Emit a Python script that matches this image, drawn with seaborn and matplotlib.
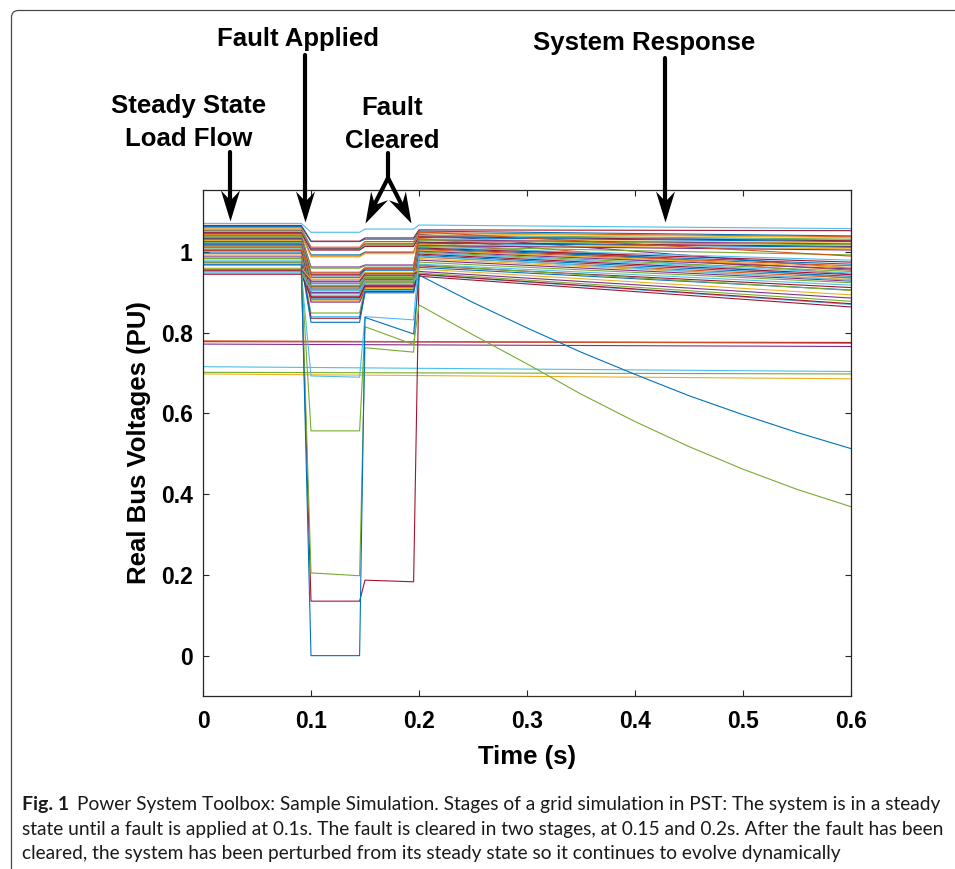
import numpy as np
import pandas as pd
import matplotlib
matplotlib.use("Agg")
import matplotlib.pyplot as plt
from matplotlib.path import Path
from matplotlib.transforms import Affine2D
from matplotlib.patches import FancyBboxPatch
import seaborn as sns

# ---------------------------------------------------------
# DATA
# ---------------------------------------------------------
# breakpoints: steady state, fault on, first clearing, final clearing, end
t_steps = [0.0, 0.091, 0.100, 0.145, 0.150, 0.195, 0.200, 0.600]
t_curve = [0.0, 0.091, 0.100, 0.145, 0.150, 0.195, 0.200,
           0.25, 0.30, 0.35, 0.40, 0.45, 0.50, 0.55, 0.60]
t_flat = [0.0, 0.600]

# ordinary buses: level before fault, during fault, after 1st clear, at 0.2s, at 0.6s
pre_v = [1.071, 1.066, 1.063, 1.060, 1.057, 1.054, 1.052, 1.050, 1.048, 1.046,
         1.044, 1.042, 1.040, 1.038, 1.036, 1.034, 1.032, 1.030, 1.028, 1.026,
         1.024, 1.022, 1.020, 1.018, 1.016, 1.014, 1.012, 1.010, 1.007, 1.004,
         1.000, 0.996, 0.992, 0.988, 0.984, 0.980, 0.975, 0.970, 1.005, 0.960,
         0.956, 0.952, 0.948, 0.945]
fault_v = [1.049, 1.027, 1.026, 1.012, 1.010, 1.009, 1.007, 1.006, 1.005, 0.993,
           0.990, 0.988, 0.963, 0.960, 0.948, 0.945, 0.941, 0.937, 0.933, 0.926,
           0.922, 0.918, 0.915, 0.911, 0.908, 0.904, 0.900, 0.897, 0.893, 0.889,
           0.886, 0.882, 0.879, 0.876, 0.849, 0.840, 0.836, 0.826, 0.950, 0.932,
           0.928, 0.916, 0.905, 0.888]
clear_v = [1.057, 1.035, 1.032, 1.026, 1.022, 1.020, 1.018, 1.016, 1.014, 1.000,
           0.998, 0.996, 0.968, 0.966, 0.962, 0.958, 0.955, 0.948, 0.945, 0.942,
           0.940, 0.937, 0.935, 0.932, 0.930, 0.928, 0.926, 0.924, 0.921, 0.918,
           0.916, 0.913, 0.910, 0.907, 0.913, 0.905, 0.902, 0.899, 0.960, 0.950,
           0.946, 0.934, 0.928, 0.915]
post_v = [1.067, 1.055, 1.052, 1.048, 1.046, 1.044, 1.042, 1.040, 1.038, 1.036,
          1.034, 1.032, 1.030, 1.028, 1.026, 1.024, 1.022, 1.020, 1.018, 1.016,
          1.014, 1.012, 1.010, 1.008, 1.006, 1.004, 1.002, 1.000, 0.998, 0.995,
          0.992, 0.988, 0.984, 0.980, 0.975, 0.970, 0.966, 0.962, 1.050, 0.958,
          0.952, 0.948, 0.944, 0.940]
end_v = [1.058, 1.053, 1.040, 1.038, 1.036, 0.960, 1.032, 1.030, 1.028, 1.026,
         0.945, 1.022, 1.020, 1.018, 0.935, 1.014, 1.012, 0.955, 1.008, 1.005,
         0.993, 0.980, 0.975, 0.970, 0.966, 0.962, 0.958, 0.952, 0.948, 0.944,
         0.940, 0.936, 0.932, 0.928, 0.924, 0.918, 0.912, 0.906, 0.990, 0.894,
         0.886, 0.878, 0.870, 0.864]

# remote buses that barely see the fault
flat_start = [0.778, 0.780, 0.772, 0.716, 0.702, 0.698]
flat_end = [0.776, 0.774, 0.766, 0.704, 0.698, 0.686]

# buses close to the fault
deep_blue = [0.968, 0.968, 0.000, 0.000, 0.838, 0.797, 0.943,
             0.875, 0.812, 0.752, 0.697, 0.644, 0.597, 0.553, 0.513]
deep_green = [0.958, 0.958, 0.557, 0.557, 0.815, 0.771, 0.869,
              0.795, 0.723, 0.648, 0.580, 0.518, 0.462, 0.412, 0.369]
deep_red = [0.955, 0.955, 0.135, 0.135, 0.187, 0.183, 0.945, 0.872]
low_green = [0.975, 0.975, 0.205, 0.198, 0.763, 0.752, 0.968, 0.905]
low_lblue = [0.951, 0.951, 0.693, 0.690, 0.840, 0.832, 0.990, 0.930]

x_ticks = [0, 0.1, 0.2, 0.3, 0.4, 0.5, 0.6]
x_tick_labels = ["0", "0.1", "0.2", "0.3", "0.4", "0.5", "0.6"]
y_ticks = [0, 0.2, 0.4, 0.6, 0.8, 1.0]
y_tick_labels = ["0", "0.2", "0.4", "0.6", "0.8", "1"]

caption_lines = [
    "Power System Toolbox: Sample Simulation. Stages of a grid simulation in PST: The system is in a steady",
    "state until a fault is applied at 0.1s. The fault is cleared in two stages, at 0.15 and 0.2s. After the fault has been",
    "cleared, the system has been perturbed from its steady state so it continues to evolve dynamically",
]

# MATLAB default colour order
MATLAB = ["#0072BD", "#D95319", "#EDB120", "#7E2F8E", "#77AC30", "#4DBEEE", "#A2142F"]
flat_colors = ["#A2142F", "#D95319", "#7E2F8E", "#4DBEEE", "#77AC30", "#EDB120"]

# ---------------------------------------------------------
# LONG-FORM TABLE
# ---------------------------------------------------------
rows = []
palette = {}
for i in range(len(pre_v)):
    vals = [pre_v[i], pre_v[i], fault_v[i], fault_v[i],
            clear_v[i], clear_v[i], post_v[i], end_v[i]]
    name = f"bus{i:02d}"
    palette[name] = MATLAB[(i + 5) % 7]
    rows += [{"bus": name, "t": t, "v": v} for t, v in zip(t_steps, vals)]

for i, (s, e) in enumerate(zip(flat_start, flat_end)):
    name = f"flat{i}"
    palette[name] = flat_colors[i]
    rows += [{"bus": name, "t": t, "v": v} for t, v in zip(t_flat, [s, e])]

specials = [("deep_red", t_steps, deep_red, "#A2142F"),
            ("low_green", t_steps, low_green, "#77AC30"),
            ("low_lblue", t_steps, low_lblue, "#4DBEEE"),
            ("deep_green", t_curve, deep_green, "#77AC30"),
            ("deep_blue", t_curve, deep_blue, "#0072BD")]
for name, ts, vs, col in specials:
    palette[name] = col
    rows += [{"bus": name, "t": t, "v": v} for t, v in zip(ts, vs)]

df = pd.DataFrame(rows)

# ---------------------------------------------------------
# PLOT
# ---------------------------------------------------------
sns.set_style("ticks")
plt.rcParams["font.family"] = ["Liberation Sans", "DejaVu Sans"]
plt.rcParams["text.color"] = "black"
plt.rcParams["axes.labelcolor"] = "black"
plt.rcParams["xtick.labelcolor"] = "black"
plt.rcParams["ytick.labelcolor"] = "black"

W, H = 955, 869
fig = plt.figure(figsize=(W / 100, H / 100), dpi=100)
ax = fig.add_axes([203 / W, 1 - 696 / H, 648 / W, 506.5 / H])

sns.lineplot(data=df, x="t", y="v", hue="bus", palette=palette,
             hue_order=list(palette.keys()), estimator=None, sort=False,
             legend=False, lw=0.8, ax=ax)

ax.set_xlim(0, 0.6)
ax.set_ylim(-0.1, 1.155)
ax.set_xticks(x_ticks, x_tick_labels)
ax.set_yticks(y_ticks, y_tick_labels)
ax.tick_params(direction="in", length=4.5, width=0.8, top=True, right=True,
               color="#262626", labelsize=16.5, labelcolor="black")
ax.tick_params(axis="x", pad=10)
ax.tick_params(axis="y", pad=7.5)
for lab in ax.get_xticklabels() + ax.get_yticklabels():
    lab.set_fontweight("bold")
for sp in ax.spines.values():
    sp.set_linewidth(0.9)
    sp.set_color("#262626")
ax.set_xlabel("Time (s)", fontsize=18.5, fontweight="bold", labelpad=9, color="black")
ax.set_ylabel("Real Bus Voltages (PU)", fontsize=18.5, fontweight="bold",
              labelpad=7, color="black")

# ---------------------------------------------------------
# ANNOTATIONS (overlay in pixel coordinates)
# ---------------------------------------------------------
ov = fig.add_axes([0, 0, 1, 1], zorder=5)
ov.set_xlim(0, W)
ov.set_ylim(H, 0)
ov.axis("off")
ov.patch.set_alpha(0)

frame = FancyBboxPatch((11.5, 10.5), 1100, 1000,
                       boxstyle="round,pad=0,rounding_size=7",
                       fc="none", ec="#4a4a4a", lw=0.9, clip_on=False)
ov.add_patch(frame)

HEAD = np.array([(0, 0), (-9.5, 31), (0, 21), (9.5, 31), (0, 0)])
CODES = [Path.MOVETO, Path.LINETO, Path.LINETO, Path.LINETO, Path.CLOSEPOLY]


def arrow(x0, y0, x1, y1, notch=20):
    L = np.hypot(x1 - x0, y1 - y0)
    ux, uy = (x1 - x0) / L, (y1 - y0) / L
    ov.plot([x0, x1 - ux * notch], [y0, y1 - uy * notch], color="k", lw=3,
            solid_capstyle="round", clip_on=False)
    theta = np.arctan2(-uy, ux) - np.arctan2(-1, 0)
    verts = Affine2D().rotate(theta).transform(HEAD)
    ms = 2 * np.max(np.abs(verts)) * 0.72
    ov.plot([x1], [y1], marker=Path(verts, CODES), ms=ms, color="k",
            mew=0, clip_on=False)


arrow(230, 152, 230, 221)
arrow(305, 55, 305, 222)
ov.plot([388, 388], [153, 179], color="k", lw=3, clip_on=False)
arrow(388, 178, 365, 223)
arrow(388, 178, 411, 223)
arrow(665, 58, 665, 222)

tkw = dict(fontsize=18.5, fontweight="bold", ha="center", va="baseline", color="black")
ov.text(298, 46, "Fault Applied", **tkw)
ov.text(189, 113, "Steady State", **tkw)
ov.text(189, 146.5, "Load Flow", **tkw)
ov.text(392, 115, "Fault", **tkw)
ov.text(392, 148, "Cleared", **tkw)
ov.text(644, 50, "System Response", **tkw)

cap_font = ["Lato", "DejaVu Sans"]
ckw = dict(family=cap_font, ha="left", va="baseline", color="#1a1a1a")
fig_lab = ov.text(22, 810, "Fig. 1", fontsize=14, fontweight="bold", **ckw)
fig.canvas.draw()
bb = fig_lab.get_window_extent()
x_after = ov.transData.inverted().transform((bb.x1, bb.y0))[0] + 8
ov.text(x_after, 810, caption_lines[0], fontsize=13.75, **ckw)
ov.text(22, 834.5, caption_lines[1], fontsize=13.75, **ckw)
ov.text(22, 859, caption_lines[2], fontsize=13.75, **ckw)

fig.savefig("out.png", dpi=100)
